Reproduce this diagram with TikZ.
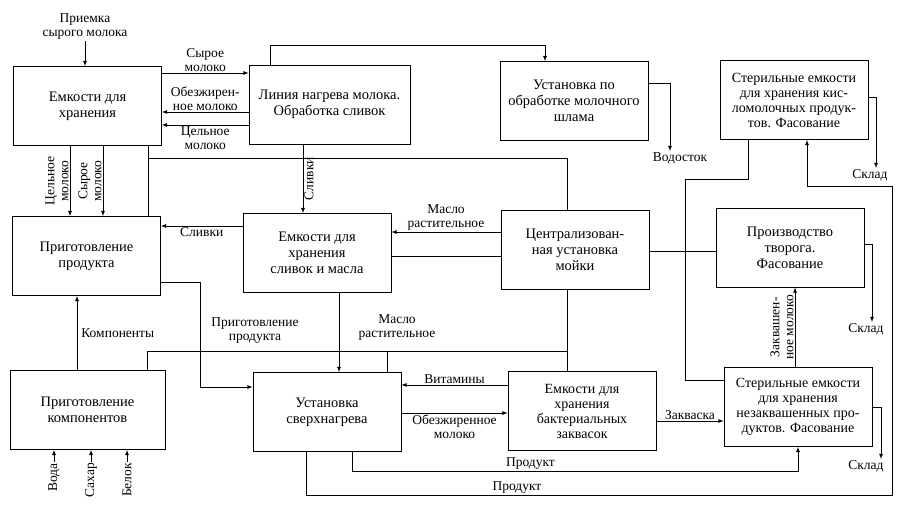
\documentclass[tikz,border=0pt]{standalone}
\usepackage{fontspec}
\setmainfont{Liberation Serif}
\usetikzlibrary{positioning}

\tikzset{
  box/.style={draw, thick, minimum width=148pt, minimum height=79pt, align=center, inner sep=2pt},
  lbl/.style={font=\fontsize{13.5}{14}\selectfont, align=center, inner sep=1pt},
  flow/.style={thick, -latex},
  wire/.style={thick}
}

\begin{document}
\begin{tikzpicture}[x=1pt, y=-1pt, font=\fontsize{14.5}{16}\selectfont]
\useasboundingbox (0,0) rectangle (912,521);

\node[box] (store) at (87.5,106) {Емкости для\\хранения};
\node[box, minimum width=161pt] (heat) at (329.5,104.5) {Линия нагрева молока.\\Обработка сливок};
\node[box] (sludge) at (574,101) {Установка по\\обработке молочного\\шлама};
\node[box, font=\fontsize{14}{15}\selectfont] (sour) at (794,100) {Стерильные емкости\\для хранения кис-\\ломолочных продук-\\тов. Фасование};
\node[box] (prep) at (86.5,256) {Приготовление\\продукта};
\node[box] (cream) at (317,253) {Емкости для\\хранения\\сливок и масла};
\node[box] (cip) at (575,250) {Централизован-\\ная установка\\мойки};
\node[box] (curd) at (790,247.5) {Производство\\творога.\\Фасование};
\node[box, minimum width=155pt] (comp) at (87.5,410) {Приготовление\\компонентов};
\node[box] (uht) at (327,412) {Установка\\сверхнагрева};
\node[box, font=\fontsize{14}{15}\selectfont] (starter) at (582,411) {Емкости для\\хранения\\бактериальных\\заквасок};
\node[box, font=\fontsize{14}{15}\selectfont] (fresh) at (798,407) {Стерильные емкости\\для хранения\\незаквашенных про-\\дуктов. Фасование};

% free ends
\node[lbl] (intake) at (85,27) {Приемка\\сырого молока};
\node[lbl] (drain) at (680,158) {Водосток};
\node[lbl] (wh1) at (870,175) {Склад};
\node[lbl] (wh2) at (866,329) {Склад};
\node[lbl] (wh3) at (866,466) {Склад};
\node[lbl, rotate=90, anchor=east] (water) at (54,462) {Вода};
\node[lbl, rotate=90, anchor=east] (sugar) at (91,462) {Сахар};
\node[lbl, rotate=90, anchor=east] (protein) at (127,462) {Белок};

% milk reception
\draw[flow] (intake) -- (intake |- store.north);
\draw[flow] (store.east |- 0,73) -- node[lbl, above] {Сырое\\молоко} (heat.west |- 0,73);
\draw[flow] (heat.west |- 0,112) -- node[lbl, above] {Обезжирен-\\ное молоко} (store.east |- 0,112);
\draw[flow] (heat.west |- 0,125) -- node[lbl, below] {Цельное\\молоко} (store.east |- 0,125);
\draw[flow] (heat.north -| 270,0) |- (545,45) -- (sludge.north -| 545,0);
\draw[flow] (sludge.east |- 0,83) -| (drain.north -| 670,0);

% storage to product
\draw[flow] (store.south -| 70,0) -- node[lbl, rotate=90, above] {Цельное\\молоко} (prep.north -| 70,0);
\draw[flow] (store.south -| 103,0) -- node[lbl, rotate=90, above] {Сырое\\молоко} (prep.north -| 103,0);
\draw[wire] (store.south -| 148,0) -- (prep.north -| 148,0);
\draw[wire] (148,158) -| (cip.north -| 567,0);
\draw[flow] (heat.south -| 303,0) -- node[lbl, rotate=90, below] {Сливки} (cream.north -| 303,0);
\draw[flow] (cream.west |- 0,226) -- node[lbl, below] {Сливки} (prep.east |- 0,226);
\draw[flow] (cip.west |- 0,232) -- node[lbl, above] {Масло\\растительное} (cream.east |- 0,232);
\draw[wire] (cream.east |- 0,256) -- (cip.west |- 0,256);
\draw[wire] (cip.east |- 0,251) -- (curd.west |- 0,251);

% cultured products
\draw[wire] (sour.south -| 748,0) |- (685,179) |- (fresh.west |- 0,380);
\draw[flow] (sour.east |- 0,97) -| (wh1.north -| 876,0);
\draw[flow] (curd.east |- 0,244) -| (wh2.north -| 872,0);
\draw[flow] (fresh.east |- 0,407) -| (wh3.north -| 881,0);
\draw[flow] (fresh.north -| 795,0) -- node[lbl, rotate=90, above] {Заквашен-\\ное молоко} (curd.south -| 795,0);

% components and heating
\draw[flow] (comp.north -| 77,0) -- node[lbl, right=3pt] {Компоненты} (prep.south -| 77,0);
\draw[flow] (water.east) -- (comp.south -| 54,0);
\draw[flow] (sugar.east) -- (comp.south -| 91,0);
\draw[flow] (protein.east) -- (comp.south -| 127,0);
\draw[flow] (prep.east |- 0,282) -| (200,387) -- (uht.west |- 0,387);
\node[lbl] (prodlbl) at (255,331) {Приготовление\\продукта};
\draw[flow] (cream.south -| 339,0) -- (uht.north -| 339,0);
\node[lbl] (oillbl) at (397,328) {Масло\\растительное};
\draw[wire] (comp.north -| 147,0) |- (567,351);
\draw[wire] (387,351) -- (uht.north -| 387,0);
\draw[wire] (cip.south -| 567,0) -- (starter.north -| 567,0);
\draw[flow] (starter.west |- 0,385) -- node[lbl, above] {Витамины} (uht.east |- 0,385);
\draw[flow] (uht.east |- 0,413) -- node[lbl, below] {Обезжиренное\\молоко} (starter.west |- 0,413);
\draw[flow] (starter.east |- 0,421) -- node[lbl, above] {Закваска} (fresh.west |- 0,421);
\draw[flow] (uht.south -| 352,0) |- node[lbl, pos=0.7, above] {Продукт} (798,471) -- (fresh.south -| 798,0);
\draw[flow] (uht.south -| 306,0) |- node[lbl, pos=0.68, above] {Продукт} (892,495) |- (807,186) -- (sour.south -| 807,0);
\end{tikzpicture}
\end{document}
